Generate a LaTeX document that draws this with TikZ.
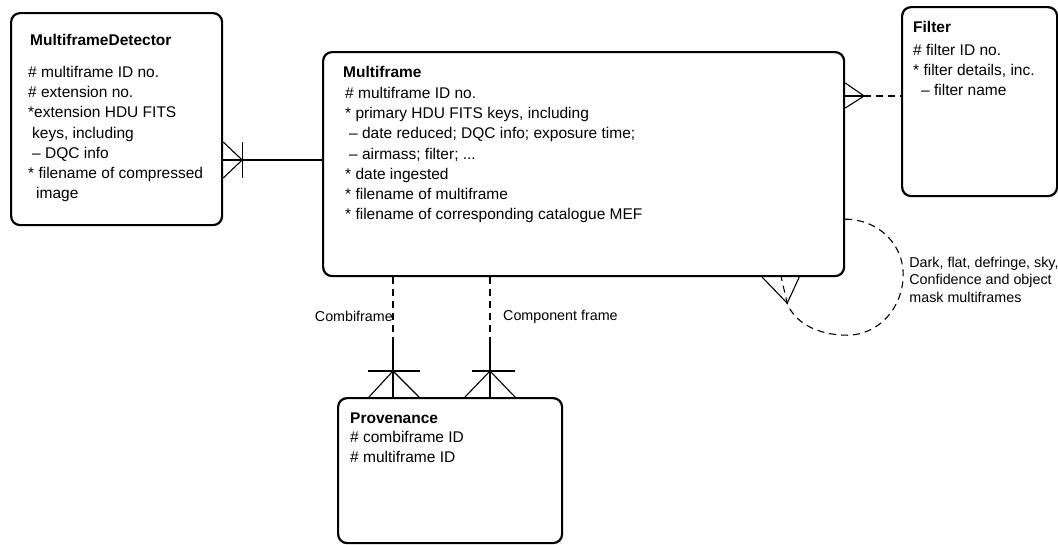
\documentclass[tikz,border=0pt]{standalone}
\usepackage{fontspec}
\setmainfont{Liberation Sans}
\usetikzlibrary{calc}
\begin{document}
\begin{tikzpicture}[x=1pt,y=-1pt,
  ent/.style={draw, line width=2.2pt, rounded corners=9pt, inner sep=0pt, anchor=north west},
  txt/.style={inner sep=0pt, anchor=base west, align=left, font=\fontsize{15.5}{20.2}\selectfont},
  ttl/.style={inner sep=0pt, anchor=base west, font=\fontsize{15.5}{18}\selectfont\bfseries},
  rel/.style={line width=1.1pt},
  reldash/.style={rel, dash pattern=on 7pt off 5pt},
  lbl/.style={inner sep=0pt, align=left, font=\fontsize{14.3}{17.5}\selectfont}]
\useasboundingbox (0,0) rectangle (1058,544);

% entities
\node[ent, minimum width=211pt, minimum height=212pt] (det) at (10,12) {};
\node[ent, minimum width=521pt, minimum height=224pt] (mf) at (322,51) {};
\node[ent, minimum width=155pt, minimum height=189pt] (filt) at (901,6) {};
\node[ent, minimum width=224pt, minimum height=145pt] (prov) at (337,397) {};

% texts (base anchor of a multi-line node = baseline of its last line)
\node[ttl] (dett) at (30,45.5) {MultiframeDetector};
\node[txt] (detb) at (28,198.7) {\# multiframe ID no.\\
\# extension no.\\
*extension HDU FITS\\
\hspace*{4pt}keys, including\\
\hspace*{4pt}– DQC info\\
* filename of compressed\\
\hspace*{8pt}image};

\node[ttl] (mft) at (343,77.5) {Multiframe};
\node[txt] (mfb) at (345,219.7) {\# multiframe ID no.\\
* primary HDU FITS keys, including\\
\hspace*{4pt}– date reduced; DQC info; exposure time;\\
\hspace*{4pt}– airmass; filter; ...\\
* date ingested\\
* filename of multiframe\\
* filename of corresponding catalogue MEF};

\node[ttl] (filtt) at (913,32.5) {Filter};
\node[txt] (filtb) at (913,95.9) {\# filter ID no.\\
* filter details, inc.\\
\hspace*{8pt}– filter name};

\node[ttl] (provt) at (350,423.5) {Provenance};
\node[txt] (provb) at (350,462.7) {\# combiframe ID\\
\# multiframe ID};

% helper levels
\coordinate (y160) at (0,160);
\coordinate (y96) at (0,96);
\coordinate (x393) at (393,0);
\coordinate (x490) at (490,0);

% MultiframeDetector -- Multiframe
\coordinate (c1) at (det.east |- y160);
\draw[rel] (c1) -- (mf.west |- y160);
\draw[rel] ($(c1)+(0,-18)$) -- ($(c1)+(19,0)$) -- ($(c1)+(0,18)$);
\draw[rel] ($(c1)+(19,-18)$) -- ($(c1)+(19,18)$);

% Multiframe -- Filter
\coordinate (c2) at (mf.east |- y96);
\draw[rel] (c2) -- ($(c2)+(19,0)$);
\draw[reldash] ($(c2)+(19,0)$) -- (filt.west |- y96);
\draw[rel] ($(c2)+(0,-13)$) -- ($(c2)+(19,0)$) -- ($(c2)+(0,12)$);

% self loop
\begin{scope}[shift={(mf.south east)}]
\draw[reldash] (0,-58) .. controls (33,-58) and (58,-33) .. (58,-3)
  .. controls (58,31) and (33,58) .. (2,58)
  .. controls (-28,58) and (-51,45) .. (-58,26) -- (-64,0);
\draw[rel] (-83,0) -- (-58,26) -- (-46,0);
\node[lbl, anchor=base west] (loopl) at (64,25) {Dark, flat, defringe, sky,\\
Confidence and object\\
mask multiframes};
\end{scope}

% Combiframe
\coordinate (c5) at (mf.south -| x393);
\coordinate (c6) at (prov.north -| x393);
\draw[reldash] (c5) -- ($(c6)+(0,-60)$);
\draw[rel] ($(c6)+(0,-60)$) -- (c6);
\draw[rel] ($(c6)+(-25,-26)$) -- ($(c6)+(27,-26)$);
\draw[rel] ($(c6)+(-24,0)$) -- ($(c6)+(0,-26)$) -- ($(c6)+(26,0)$);
\node[lbl, anchor=east] (lcomb) at ($(c5)!0.328!(c6)$) {Combiframe};

% Component frame
\coordinate (c7) at (mf.south -| x490);
\coordinate (c8) at (prov.north -| x490);
\draw[reldash] (c7) -- ($(c8)+(0,-60)$);
\draw[rel] ($(c8)+(0,-60)$) -- (c8);
\draw[rel] ($(c8)+(-18,-26)$) -- ($(c8)+(25,-26)$);
\draw[rel] ($(c8)+(-25,0)$) -- ($(c8)+(0,-26)$) -- ($(c8)+(25,0)$);
\node[lbl, anchor=west] (lcomp) at ($($(c7)!0.328!(c8)$)+(13,0)$) {Component frame};
\end{tikzpicture}
\end{document}
